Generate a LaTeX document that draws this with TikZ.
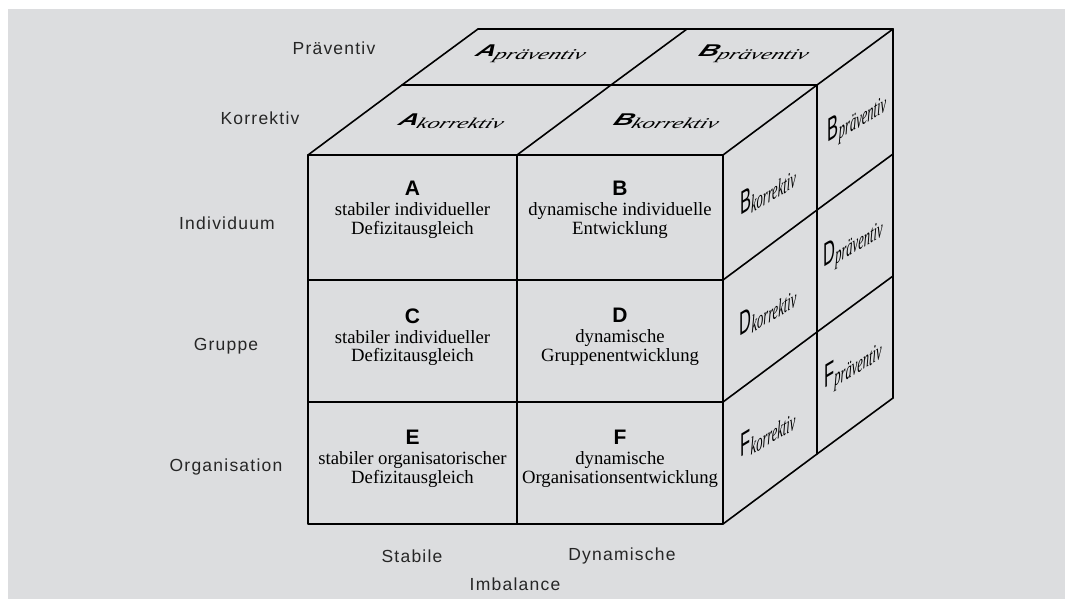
\documentclass[tikz,border=0pt]{standalone}
\usepackage{fontspec}
\setmainfont{Liberation Serif}
\setsansfont{Liberation Sans}
\newfontfamily\axisfont[LetterSpace=7]{Liberation Sans}
\usetikzlibrary{calc}
\definecolor{panelgray}{RGB}{220,221,223}
\newcommand{\cellhead}[1]{{\sffamily\bfseries\fontsize{21}{21}\selectfont #1}}
\newcommand{\toptag}[2]{{\sffamily\bfseries\itshape\fontsize{17}{17}\selectfont #1}\raisebox{-3pt}{\itshape\fontsize{15}{15}\selectfont #2}}
\newcommand{\sidetag}[2]{{\sffamily\fontsize{33}{33}\selectfont #1}\raisebox{-4pt}{\itshape\fontsize{25}{25}\selectfont #2}}

\begin{document}
\begin{tikzpicture}[
    x=1pt, y=-1pt,
    edge/.style={line width=1.6pt, line cap=round, line join=round},
    axis/.style={font=\axisfont\fontsize{17.5}{17.5}\selectfont, text=black!85, inner sep=0pt},
    cell/.style={align=center, font=\fontsize{18.7}{18.5}\selectfont, inner sep=0pt},
    toplbl/.style={inner sep=0pt, xscale=1.6, xslant=0.3},
    sidelbl/.style={inner sep=0pt, yslant=0.6, xscale=0.5}
]
\useasboundingbox (0,0) rectangle (1065,599);
\fill[white] (0,0) rectangle (1065,599);
\fill[panelgray] (8,9) rectangle (1065,599);

% front face
\draw[edge] (308,155) rectangle (723,524);
\foreach \y in {280,402}
    \draw[edge] (308,\y) -- (723,\y);
\draw[edge] (517,155) -- (517,524);

% top face
\foreach \x in {308,517,723}
    \draw[edge] (\x,155) -- ++(94,-70) -- ++(76,-56);
\draw[edge] (402,85) -- (817,85);
\draw[edge] (478,29) -- (893,29);

% side face
\foreach \y in {280,402,524}
    \draw[edge] (723,\y) -- ++(94,-70) -- ++(76,-56);
\draw[edge] (817,85) -- (817,454);
\draw[edge] (893,29) -- (893,398);

% axis labels
\node[axis] (praev) at (334,48) {Präventiv};
\node[axis] (korr) at (260,118) {Korrektiv};
\node[axis] (indiv) at (227,223) {Individuum};
\node[axis] (grp) at (226,346) {Gruppe};
\node[axis] (org) at (226,467) {Organisation};
\node[axis] (stab) at (412,556) {Stabile};
\node[axis] (dyn) at (622,556) {Dynamische};
\node[axis] (imb) at (515,584) {Imbalance};

% front cells
\node[cell] (cellA) at (412.5,210) {\cellhead{A}\\[1.5pt] stabiler individueller\\ Defizitausgleich};
\node[cell] (cellB) at (620,210) {\cellhead{B}\\[1.5pt] dynamische individuelle\\ Entwicklung};
\node[cell] (cellC) at (412.5,337) {\cellhead{C}\\[1.5pt] stabiler individueller\\ Defizitausgleich};
\node[cell] (cellD) at (620,337) {\cellhead{D}\\[1.5pt] dynamische\\ Gruppenentwicklung};
\node[cell] (cellE) at (412.5,459) {\cellhead{E}\\[1.5pt] stabiler organisatorischer\\ Defizitausgleich};
\node[cell] (cellF) at (620,459) {\cellhead{F}\\[1.5pt] dynamische\\ Organisationsentwicklung};

% top labels
\node[toplbl] (topApraev) at (531,54) {\toptag{A}{präventiv}};
\node[toplbl] (topBpraev) at (754,54) {\toptag{B}{präventiv}};
\node[toplbl] (topAkorr) at (452,121) {\toptag{A}{korrektiv}};
\node[toplbl] (topBkorr) at (667,121) {\toptag{B}{korrektiv}};

% side labels
\node[sidelbl] (sideBkorr) at (768,190) {\sidetag{B}{korrektiv}};
\node[sidelbl] (sideBpraev) at (857,118) {\sidetag{B}{präventiv}};
\node[sidelbl] (sideDkorr) at (768,310) {\sidetag{D}{korrektiv}};
\node[sidelbl] (sideDpraev) at (853,243) {\sidetag{D}{präventiv}};
\node[sidelbl] (sideFkorr) at (768,432) {\sidetag{F}{korrektiv}};
\node[sidelbl] (sideFpraev) at (853,365) {\sidetag{F}{präventiv}};
\end{tikzpicture}
\end{document}
